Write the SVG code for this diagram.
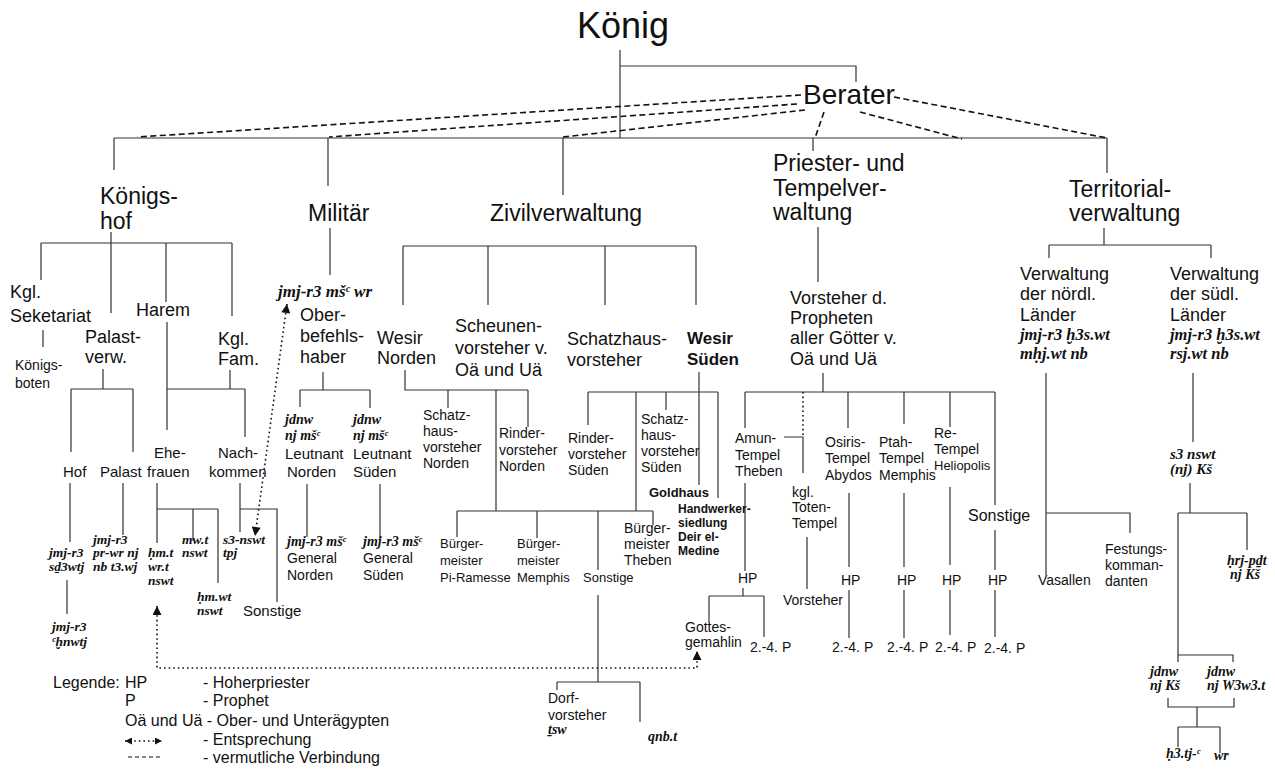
<svg xmlns="http://www.w3.org/2000/svg" width="1275" height="769" viewBox="0 0 1275 769">
<style>
text{font-family:"Liberation Sans",Arial,sans-serif;fill:#111}
.k{font-size:36px}
.br{font-size:28px}
.h{font-size:23px}
.m{font-size:18px}
.s{font-size:14px}
.s13{font-size:13px}
.s15{font-size:15px}
.s16{font-size:16px}
.lg{font-size:16px}
.b{font-weight:bold}
.it{font-family:"Liberation Serif","Times New Roman",serif;font-style:italic;font-weight:bold;font-size:14px}
.it13{font-size:13.5px}
.it17{font-size:16.5px}
.it15{font-size:15px}
.l{stroke:#333;stroke-width:1.2;fill:none}
.d{stroke:#111;stroke-width:1.6;stroke-dasharray:6 3.5;fill:none}
.dt{stroke:#111;stroke-width:1.6;stroke-dasharray:1.6 3;fill:none}
</style>
<defs>
<marker id="ah" viewBox="0 0 10 10" refX="10" refY="5" markerWidth="11" markerHeight="9" markerUnits="userSpaceOnUse" orient="auto-start-reverse"><path d="M0,0 L10,5 L0,10 z" fill="#111"/></marker>
<marker id="ahs" viewBox="0 0 10 10" refX="10" refY="5" markerWidth="9" markerHeight="7" markerUnits="userSpaceOnUse" orient="auto-start-reverse"><path d="M0,0 L10,5 L0,10 z" fill="#111"/></marker>
</defs>
<rect width="1275" height="769" fill="#fff"/>

<g id="connectors">
<path class="l" d="M620,50 V138 M620,66 H856 V82"/>
<path class="l" d="M114,138 H1107 M114,138 V170 M328,138 V186 M563,138 V195 M813,138 V151 M1107,138 V173"/>
<path class="d" d="M801,95 L137,137 M797,104 L329,137 M805,110 L563,137 M824,112 L815,138 M860,112 L962,139 M894,97 L1107,138"/>
<path class="l" d="M111,232 V313 M41,243 H232 M41,243 V280 M166,243 V302 M232,243 V316"/>
<path class="l" d="M43,330 V347"/>
<path class="l" d="M103,369 V389 M71,389 H133 M71,389 V452 M133,389 V452"/>
<path class="l" d="M167,322 V430 M167,389 H245 M230,370 V389 M245,389 V437"/>
<path class="l" d="M70,483 V542 M67,580 V614 M123,483 V535"/>
<path class="l" d="M157,483 V543 M157,509 H218 M193,509 V541 M218,509 V583"/>
<path class="l" d="M240,483 V532 M240,509 H277 V602"/>
<path class="l" d="M330,228 V275 M323,372 V390 M300,390 H370 M300,390 V407 M370,390 V408 M307,484 V537 M380,484 V540"/>
<path class="l" d="M403,246 H696 M403,246 V305 M488,246 V305 M605,246 V305 M696,246 V305"/>
<path class="l" d="M405,370 V390 H528 M448,390 V408 M496,390 V511 M528,390 V427"/>
<path class="l" d="M699,372 V485 M588,392 H718 M588,392 V425 M636,392 V511 M666,392 V410 M718,392 V498"/>
<path class="l" d="M457,511 H653 M457,511 V537 M537,511 V538 M598,511 V570 M653,511 V525 M598,595 V682 M557,682 H640 M557,682 V690 M640,682 V722"/>
<path class="l" d="M818,227 V282 M823,373 V392 M745,392 H995 M745,392 V428 M848,392 V428 M904,392 V424 M950,392 V427 M995,392 V505"/>
<path class="dt" d="M803,392 V437"/>
<path class="l" d="M784,437 H803 V473 M807,537 V589"/>
<path class="l" d="M745,483 V571 M743,588 V596 M709,596 H764 M709,596 V623 M764,596 V637"/>
<path class="l" d="M849,493 V567 M849,590 V638 M904,493 V567 M904,590 V638 M950,487 V565 M950,590 V635 M995,530 V570 M995,590 V637"/>
<path class="l" d="M1104,228 V245 M1049,245 H1211 M1049,245 V258 M1211,245 V258"/>
<path class="l" d="M1046,373 V575 M1046,513 H1130 V533"/>
<path class="l" d="M1193,373 V442 M1190,483 V513 M1178,513 H1247 M1178,513 V662 M1247,513 V550 M1178,655 H1233 V662"/>
<path class="l" d="M1168,698 V707 H1234 V698 M1197,707 V727 M1178,727 H1220 M1178,727 V747 M1220,727 V753"/>
<path class="dt" d="M287,304 L255,536" marker-start="url(#ah)" marker-end="url(#ah)"/>
<path class="dt" d="M157,606 V668 H697 V651" marker-start="url(#ah)" marker-end="url(#ah)"/>
</g>

<g id="koenig"><text class="k" x="577" y="38">König</text></g>
<g id="berater"><text class="br" x="803" y="104">Berater</text></g>

<g id="koenigshof"><text class="h" x="100" y="204">Königs-</text><text class="h" x="100" y="229">hof</text></g>
<g id="militaer"><text class="h" x="308" y="221">Militär</text></g>
<g id="zivilverwaltung"><text class="h" x="490" y="221">Zivilverwaltung</text></g>
<g id="priester"><text class="h" x="773" y="171">Priester- und</text><text class="h" x="773" y="196">Tempelver-</text><text class="h" x="773" y="220">waltung</text></g>
<g id="territorial"><text class="h" x="1069" y="197">Territorial-</text><text class="h" x="1069" y="221">verwaltung</text></g>

<g id="sekretariat"><text class="m" x="10" y="298">Kgl.</text><text class="m" x="10" y="322">Seketariat</text></g>
<g id="koenigsboten"><text class="s" x="15" y="370">Königs-</text><text class="s" x="15" y="388">boten</text></g>
<g id="palastverw"><text class="m" x="85" y="343">Palast-</text><text class="m" x="85" y="363">verw.</text></g>
<g id="harem"><text class="m" x="136" y="316">Harem</text></g>
<g id="kglfam"><text class="m" x="218" y="345">Kgl.</text><text class="m" x="218" y="365">Fam.</text></g>
<g id="hof"><text class="s15" x="63" y="477">Hof</text></g>
<g id="palast"><text class="s15" x="100" y="477">Palast</text></g>
<g id="ehefrauen"><text class="s15" x="154" y="458">Ehe-</text><text class="s15" x="147" y="477">frauen</text></g>
<g id="nachkommen"><text class="s15" x="218" y="458">Nach-</text><text class="s15" x="209" y="477">kommen</text></g>
<g id="hof-jmj"><text class="it it13" x="49" y="557">jmj-r3</text><text class="it it13" x="49" y="571">sḏ3wtj</text></g>
<g id="hof-jmj2"><text class="it it13" x="52" y="631">jmj-r3</text><text class="it it13" x="52" y="646">ᶜḫnwtj</text></g>
<g id="palast-jmj"><text class="it it13" x="93" y="544">jmj-r3</text><text class="it it13" x="93" y="557">pr-wr nj</text><text class="it it13" x="93" y="571">nb t3.wj</text></g>
<g id="hmt"><text class="it it13" x="148" y="557">ḥm.t</text><text class="it it13" x="148" y="571">wr.t</text><text class="it it13" x="148" y="585">nswt</text></g>
<g id="mwt"><text class="it it13" x="182" y="544">mw.t</text><text class="it it13" x="182" y="557">nswt</text></g>
<g id="hmwt"><text class="it it13" x="197" y="601">ḥm.wt</text><text class="it it13" x="197" y="615">nswt</text></g>
<g id="s3nswt-tpj"><text class="it it13" x="223" y="544">s3-nswt</text><text class="it it13" x="223" y="557">tpj</text></g>
<g id="sonstige-kh"><text class="s15" x="243" y="616">Sonstige</text></g>

<g id="oberbefehlshaber"><text class="it it17" x="278" y="297" style="font-size:17px">jmj-r3 mšᶜ wr</text><text class="m" x="300" y="321">Ober-</text><text class="m" x="300" y="342">befehls-</text><text class="m" x="300" y="363">haber</text></g>
<g id="leutnant-n"><text class="it" x="285" y="424">jdnw</text><text class="it" x="285" y="440">nj mšᶜ</text><text class="s15" x="285" y="459">Leutnant</text><text class="s15" x="287" y="477">Norden</text></g>
<g id="leutnant-s"><text class="it" x="353" y="424">jdnw</text><text class="it" x="353" y="440">nj mšᶜ</text><text class="s15" x="353" y="459">Leutnant</text><text class="s15" x="353" y="477">Süden</text></g>
<g id="general-n"><text class="it" x="287" y="546">jmj-r3 mšᶜ</text><text class="s" x="287" y="563">General</text><text class="s" x="287" y="580">Norden</text></g>
<g id="general-s"><text class="it" x="363" y="546">jmj-r3 mšᶜ</text><text class="s" x="363" y="563">General</text><text class="s" x="363" y="580">Süden</text></g>

<g id="wesir-n"><text class="m" x="377" y="344">Wesir</text><text class="m" x="377" y="364">Norden</text></g>
<g id="scheunen"><text class="m" x="455" y="332">Scheunen-</text><text class="m" x="455" y="354">vorsteher v.</text><text class="m" x="455" y="376">Oä und Uä</text></g>
<g id="schatzhaus"><text class="m" x="567" y="345">Schatzhaus-</text><text class="m" x="567" y="366">vorsteher</text></g>
<g id="wesir-s"><text class="m b" x="687" y="344" style="font-size:17px">Wesir</text><text class="m b" x="687" y="365" style="font-size:17px">Süden</text></g>
<g id="schatz-n"><text class="s" x="423" y="420">Schatz-</text><text class="s" x="423" y="436">haus-</text><text class="s" x="423" y="452">vorsteher</text><text class="s" x="423" y="468">Norden</text></g>
<g id="rinder-n"><text class="s" x="499" y="438">Rinder-</text><text class="s" x="499" y="455">vorsteher</text><text class="s" x="499" y="471">Norden</text></g>
<g id="rinder-s"><text class="s" x="568" y="443">Rinder-</text><text class="s" x="568" y="459">vorsteher</text><text class="s" x="568" y="475">Süden</text></g>
<g id="schatz-s"><text class="s" x="641" y="424">Schatz-</text><text class="s" x="641" y="440">haus-</text><text class="s" x="641" y="456">vorsteher</text><text class="s" x="641" y="472">Süden</text></g>
<g id="goldhaus"><text class="b" x="649" y="497" style="font-size:13px">Goldhaus</text></g>
<g id="handwerker"><text class="b" x="678" y="513" style="font-size:12px">Handwerker-</text><text class="b" x="678" y="527" style="font-size:12px">siedlung</text><text class="b" x="678" y="541" style="font-size:12px">Deir el-</text><text class="b" x="678" y="555" style="font-size:12px">Medine</text></g>
<g id="bm-pi"><text class="s13" x="440" y="548">Bürger-</text><text class="s13" x="440" y="565">meister</text><text class="s13" x="440" y="582">Pi-Ramesse</text></g>
<g id="bm-memphis"><text class="s13" x="517" y="548">Bürger-</text><text class="s13" x="517" y="565">meister</text><text class="s13" x="517" y="582">Memphis</text></g>
<g id="sonstige-zv"><text class="s13" x="583" y="582">Sonstige</text></g>
<g id="bm-theben"><text class="s" x="624" y="533">Bürger-</text><text class="s" x="624" y="549">meister</text><text class="s" x="624" y="565">Theben</text></g>
<g id="dorfvorsteher"><text class="s" x="548" y="703">Dorf-</text><text class="s" x="548" y="720">vorsteher</text><text class="it" x="548" y="734">ṯsw</text></g>
<g id="qnbt"><text class="it" x="648" y="741">qnb.t</text></g>

<g id="vorsteher-propheten"><text class="m" x="790" y="304">Vorsteher d.</text><text class="m" x="790" y="324">Propheten</text><text class="m" x="790" y="344">aller Götter v.</text><text class="m" x="790" y="365">Oä und Uä</text></g>
<g id="amun"><text class="s" x="735" y="443">Amun-</text><text class="s" x="735" y="460">Tempel</text><text class="s" x="735" y="476">Theben</text></g>
<g id="amun-hp"><text class="s" x="738" y="583">HP</text></g>
<g id="gottesgemahlin"><text class="s" x="685" y="632">Gottes-</text><text class="s" x="685" y="647">gemahlin</text></g>
<g id="amun-p"><text class="s" x="750" y="652">2.-4. P</text></g>
<g id="totentempel"><text class="s" x="792" y="497">kgl.</text><text class="s" x="792" y="512">Toten-</text><text class="s" x="792" y="528">Tempel</text></g>
<g id="tt-vorsteher"><text class="s" x="783" y="605">Vorsteher</text></g>
<g id="osiris"><text class="s" x="825" y="447">Osiris-</text><text class="s" x="825" y="463">Tempel</text><text class="s" x="825" y="480">Abydos</text></g>
<g id="osiris-hp"><text class="s" x="841" y="585">HP</text><text class="s" x="832" y="652">2.-4. P</text></g>
<g id="ptah"><text class="s" x="879" y="447">Ptah-</text><text class="s" x="879" y="463">Tempel</text><text class="s" x="879" y="480">Memphis</text></g>
<g id="ptah-hp"><text class="s" x="897" y="585">HP</text><text class="s" x="887" y="652">2.-4. P</text></g>
<g id="re"><text class="s" x="934" y="438">Re-</text><text class="s" x="934" y="454">Tempel</text><text class="s13" x="934" y="470">Heliopolis</text></g>
<g id="re-hp"><text class="s" x="942" y="585">HP</text><text class="s" x="935" y="652">2.-4. P</text></g>
<g id="sonstige-pt"><text class="s16" x="968" y="521">Sonstige</text></g>
<g id="sonstige-hp"><text class="s" x="988" y="585">HP</text><text class="s" x="984" y="653">2.-4. P</text></g>

<g id="verw-nord"><text class="m" x="1020" y="280">Verwaltung</text><text class="m" x="1020" y="300">der nördl.</text><text class="m" x="1020" y="321">Länder</text><text class="it it17" x="1020" y="340">jmj-r3 ḫ3s.wt</text><text class="it it17" x="1020" y="359">mḥj.wt nb</text></g>
<g id="verw-sued"><text class="m" x="1170" y="280">Verwaltung</text><text class="m" x="1170" y="300">der südl.</text><text class="m" x="1170" y="321">Länder</text><text class="it it17" x="1170" y="340">jmj-r3 ḫ3s.wt</text><text class="it it17" x="1170" y="359">rsj.wt nb</text></g>
<g id="vasallen"><text class="s" x="1038" y="585">Vasallen</text></g>
<g id="festung"><text class="s" x="1105" y="554">Festungs-</text><text class="s" x="1105" y="570">komman-</text><text class="s" x="1105" y="586">danten</text></g>
<g id="s3nswt-ks"><text class="it it15" x="1170" y="459">s3 nswt</text><text class="it it15" x="1170" y="474">(nj) Kš</text></g>
<g id="hrj-pdt"><text class="it" x="1227" y="565">ḥrj-pḏt</text><text class="it" x="1230" y="579">nj Kš</text></g>
<g id="jdnw-ks"><text class="it" x="1150" y="676">jdnw</text><text class="it" x="1150" y="690">nj Kš</text></g>
<g id="jdnw-w3w3t"><text class="it" x="1207" y="676">jdnw</text><text class="it" x="1207" y="690">nj W3w3.t</text></g>
<g id="h3tj"><text class="it" x="1166" y="758">ḥ3.tj-ᶜ</text></g>
<g id="wr"><text class="it" x="1214" y="760">wr</text></g>

<g id="legende">
<text class="lg" x="53" y="688">Legende:</text><text class="lg" x="125" y="688">HP</text><text class="lg" x="203" y="688">- Hoherpriester</text>
<text class="lg" x="125" y="706">P</text><text class="lg" x="203" y="706">- Prophet</text>
<text class="lg" x="125" y="726">Oä und Uä - Ober- und Unterägypten</text>
<path class="dt" d="M125,741 H162" marker-start="url(#ahs)" marker-end="url(#ahs)" style="stroke-width:1.3"/>
<text class="lg" x="203" y="745">- Entsprechung</text>
<path class="d" d="M128,757 H160" style="stroke-dasharray:4 3;stroke-width:1.2"/>
<text class="lg" x="203" y="763">- vermutliche Verbindung</text>
</g>
</svg>
